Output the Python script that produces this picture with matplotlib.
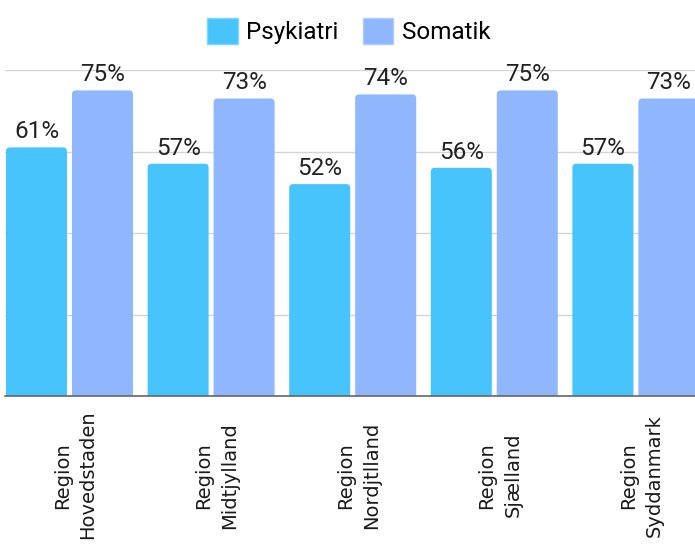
import numpy as np
import matplotlib
matplotlib.use('Agg')
from matplotlib import pyplot as plt
from matplotlib.patches import FancyBboxPatch, Patch

regioner = ['Region\nHovedstaden', 'Region\nMidtjylland', 'Region\nNordjtlland',
            'Region\nSjælland', 'Region\nSyddanmark']
psykiatri = [61, 57, 52, 56, 57]
somatik = [75, 73, 74, 75, 73]
serier = ['Psykiatri', 'Somatik']
farver = ['#48C4FC', '#90B6FE']

W, H = 695, 549
fig = plt.figure(figsize=(W / 100, H / 100), dpi=100)

# akse placeret i pixels
ax = fig.add_axes([5 / W, (H - 396) / H, 690 / W, 326 / H])

x = np.arange(len(regioner))
bredde = 0.431
off = 0.233

ax.set_xlim((5 - 69.5) / 141.6, (695 - 69.5) / 141.6)
ax.set_ylim(0, 80)

# runde hjorner: radius i x- og y-enheder
rx = 4 / 141.6
ry = 4 / (326 / 80)

for vals, dx, farve in [(psykiatri, -off, farver[0]), (somatik, off, farver[1])]:
    bars = ax.bar(x + dx, vals, width=bredde, color=farve)
    for b, v in zip(bars, vals):
        b.set_visible(False)
        p = FancyBboxPatch((b.get_x(), -ry), b.get_width(), v + ry,
                           boxstyle='round,pad=0,rounding_size=%f' % rx,
                           mutation_aspect=ry / rx, facecolor=farve,
                           edgecolor='none', zorder=2)
        ax.add_patch(p)
        ax.annotate('%d%%' % v, (b.get_x() + b.get_width() / 2, v),
                    xytext=(0, 6.5), textcoords='offset points',
                    ha='center', va='baseline', fontsize=17.5,
                    family='Roboto', color='#222222')

ax.set_yticks([0, 20, 40, 60, 80])
ax.set_yticklabels([])
ax.tick_params(axis='y', length=0)
ax.grid(axis='y', color='#d4d4d4', linewidth=1)
ax.set_axisbelow(True)
for s in ['left', 'right', 'top']:
    ax.spines[s].set_visible(False)
ax.spines['bottom'].set_color('#666666')
ax.spines['bottom'].set_linewidth(1.2)
ax.spines['bottom'].set_zorder(3)

ax.set_xticks(x + 0.04)
ax.set_xticklabels(regioner, rotation=90, fontsize=14, family='DejaVu Sans',
                   color='#1a1a1a', linespacing=1.45)
for lab in ax.get_xticklabels():
    lab.set_va('center')
    lab.set_ha('center')
ax.tick_params(axis='x', length=0, pad=57)

handles = [Patch(facecolor=farver[0], edgecolor='#7fd6fd', linewidth=1),
           Patch(facecolor=farver[1], edgecolor='#b0cbfe', linewidth=1)]
fig.legend(handles, serier, loc='center', bbox_to_anchor=(349 / W, 1 - 31 / H),
           ncol=2, frameon=False, prop={'family': 'Roboto', 'size': 17.5},
           handlelength=1.25, handleheight=1.25, handletextpad=0.35,
           columnspacing=1.0, borderaxespad=0)

fig.savefig('out.png', dpi=100)
